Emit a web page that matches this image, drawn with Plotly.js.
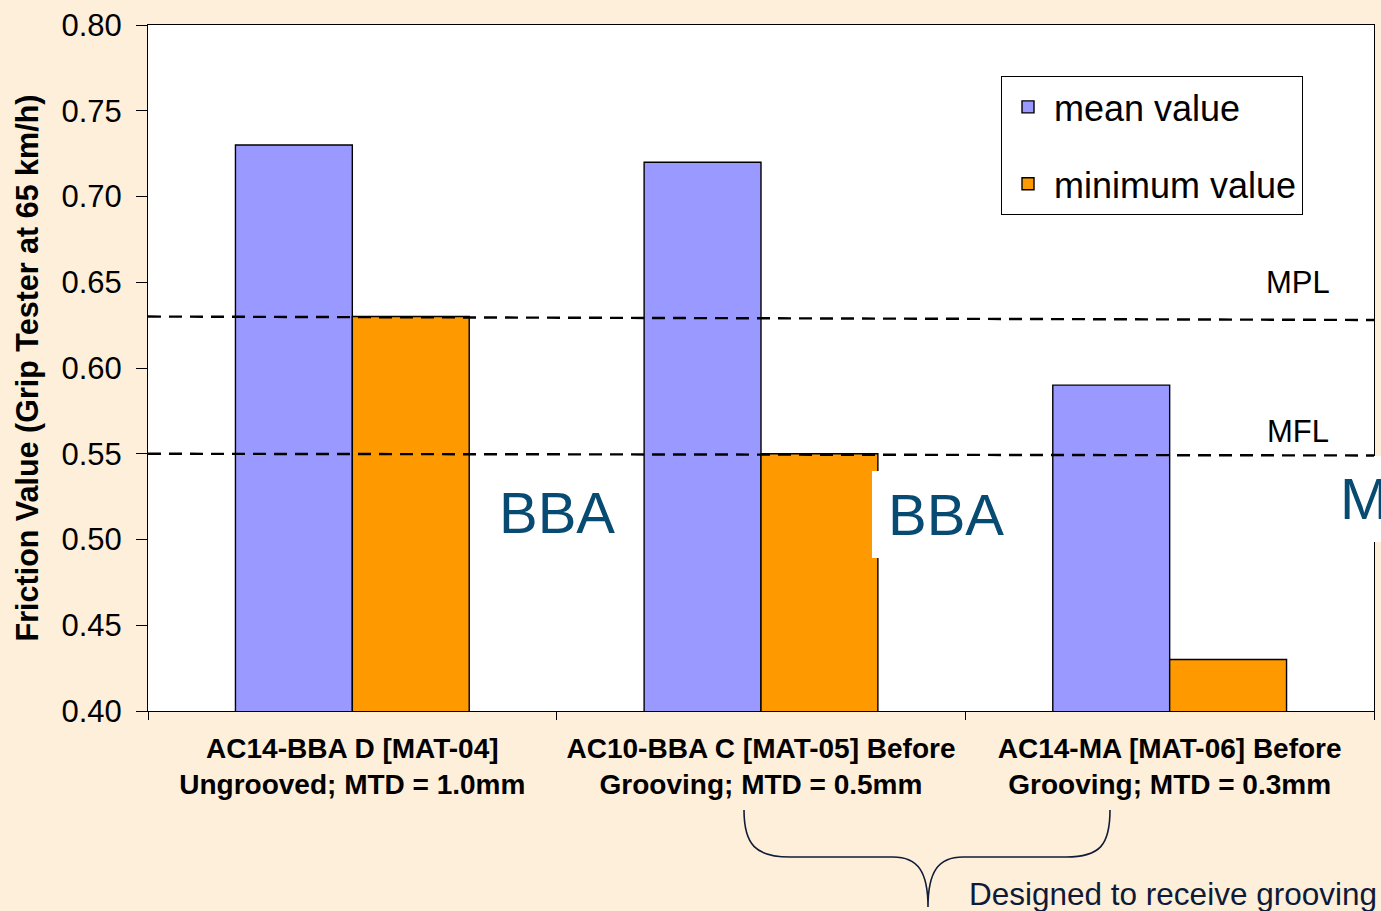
<!DOCTYPE html>
<html>
<head>
<meta charset="utf-8">
<script src="https://cdn.plot.ly/plotly-3.0.1.min.js"></script>
<style>
  html, body { margin: 0; padding: 0; background: #FEEFDA; }
  #chart { width: 1381px; height: 911px; }
</style>
</head>
<body>
<div id="chart"></div>
<script>
// ---- data ----
const categories = [
  'AC14-BBA D [MAT-04]<br>Ungrooved; MTD = 1.0mm',
  'AC10-BBA C [MAT-05] Before<br>Grooving; MTD = 0.5mm',
  'AC14-MA [MAT-06] Before<br>Grooving; MTD = 0.3mm'
];
const meanValues = [0.73, 0.72, 0.59];
const minValues = [0.63, 0.55, 0.43];
const mplLine = [0.63, 0.628];   // left, right end
const mflLine = [0.55, 0.549];
const seriesNames = ['mean value', 'minimum value'];

// ---- layout helpers (pixel -> paper) ----
const W = 1381, H = 911;
const M = {l: 148, r: 7, t: 25, b: 200};
const PW = W - M.l - M.r, PH = H - M.t - M.b;
const X = px => (px - M.l) / PW;
const Y = py => (H - M.b - py) / PH;

const fontFam = 'Arial, "Liberation Sans", sans-serif';

const traces = [
  {
    type: 'bar', name: seriesNames[0], x: categories, y: meanValues,
    marker: {color: '#9999FF', line: {color: '#000000', width: 1.4}},
    legendgroup: 'a', hoverinfo: 'y'
  },
  {
    type: 'bar', name: seriesNames[1], x: categories, y: minValues,
    marker: {color: '#FF9900', line: {color: '#000000', width: 1.4}},
    legendgroup: 'b', hoverinfo: 'y'
  }
];

const bracePath = [
  'M', X(744), Y(810),
  'C', X(744), Y(845), X(756), Y(857), X(790), Y(857),
  'L', X(893), Y(857),
  'C', X(918), Y(857), X(928), Y(872), X(928), Y(907),
  'C', X(928), Y(872), X(938), Y(857), X(963), Y(857),
  'L', X(1066), Y(857),
  'C', X(1100), Y(857), X(1110), Y(845), X(1110), Y(810)
].join(' ');

const layout = {
  width: W, height: H,
  margin: M,
  paper_bgcolor: '#FEEFDA',
  plot_bgcolor: '#FFFFFF',
  font: {family: fontFam, color: '#000000'},
  barmode: 'group',
  bargap: 0.428,
  bargroupgap: 0,
  showlegend: true,
  legend: {
    x: X(1001), y: Y(76), xanchor: 'left', yanchor: 'top',
    bgcolor: '#FFFFFF', bordercolor: '#000000', borderwidth: 1,
    font: {size: 36, family: fontFam, color: '#000000'},
    tracegroupgap: 27,
    traceorder: 'grouped',
    itemwidth: 42
  },
  xaxis: {
    type: 'category',
    showline: true, linecolor: '#000000', linewidth: 1, mirror: true,
    ticks: 'outside', tickson: 'boundaries', ticklen: 8, tickcolor: '#000000',
    tickfont: {size: 28, family: fontFam, weight: 'bold', color: '#000000'},
    ticklabelstandoff: 12,
    showgrid: false, zeroline: false, fixedrange: true,
    automargin: false
  },
  yaxis: {
    range: [0.40, 0.80], dtick: 0.05, tickformat: '.2f',
    showline: true, linecolor: '#000000', linewidth: 1, mirror: true,
    ticks: 'outside', ticklen: 11, tickcolor: '#000000',
    tickfont: {size: 31, family: fontFam, color: '#000000'},
    ticklabelstandoff: 8,
    showgrid: false, zeroline: false, fixedrange: true,
    automargin: false,
    title: {
      text: 'Friction Value (Grip Tester at 65 km/h)',
      font: {size: 30.5, family: fontFam, weight: 'bold', color: '#000000'},
      standoff: 13
    }
  },
  shapes: [
    // white panels behind the overlay labels
    {type: 'rect', xref: 'paper', yref: 'paper', layer: 'above',
     x0: X(872), x1: X(1014), y0: Y(558), y1: Y(471),
     fillcolor: '#FFFFFF', line: {width: 0}},
    {type: 'rect', xref: 'paper', yref: 'paper', layer: 'above',
     x0: X(1330), x1: X(1395), y0: Y(542), y1: Y(456),
     fillcolor: '#FFFFFF', line: {width: 0}},
    // reference lines
    {type: 'line', xref: 'paper', yref: 'y', layer: 'above',
     x0: 0, x1: 1, y0: mplLine[0], y1: mplLine[1],
     line: {color: '#000000', width: 2.4, dash: '13px,8px'}},
    {type: 'line', xref: 'paper', yref: 'y', layer: 'above',
     x0: 0, x1: 1, y0: mflLine[0], y1: mflLine[1],
     line: {color: '#000000', width: 2.4, dash: '13px,8px'}},
    // brace
    {type: 'path', xref: 'paper', yref: 'paper', path: bracePath,
     line: {color: '#101C3A', width: 1.6}}
  ],
  annotations: [
    {xref: 'paper', yref: 'y', x: X(1298), xanchor: 'center', yanchor: 'middle', y: 0.6496, text: 'MPL', showarrow: false,
     font: {size: 31, family: fontFam, color: '#000000'}},
    {xref: 'paper', yref: 'y', x: X(1298), xanchor: 'center', yanchor: 'middle', y: 0.5627, text: 'MFL', showarrow: false,
     font: {size: 31, family: fontFam, color: '#000000'}},
    {xref: 'x', yref: 'y', x: 0.5, y: 0.516, xanchor: 'center', yanchor: 'middle', text: 'BBA', showarrow: false,
     font: {size: 58, family: fontFam, color: '#074A72'}},
    {xref: 'x', yref: 'y', x: 1.452, y: 0.5143, xanchor: 'center', yanchor: 'middle', text: 'BBA', showarrow: false,
     font: {size: 58, family: fontFam, color: '#074A72'}},
    {xref: 'paper', yref: 'y', x: X(1338), xanchor: 'left', yanchor: 'middle', y: 0.5242, text: 'M', showarrow: false,
     font: {size: 58, family: fontFam, color: '#074A72'}},
    {xref: 'paper', yref: 'paper', x: X(967), xanchor: 'left', yanchor: 'middle', y: Y(894), text: 'Designed to receive grooving',
     showarrow: false, font: {size: 31.5, family: fontFam, color: '#0E1A38'}}
  ]
};

Plotly.newPlot('chart', traces, layout, {displayModeBar: false, staticPlot: true});
</script>
</body>
</html>
